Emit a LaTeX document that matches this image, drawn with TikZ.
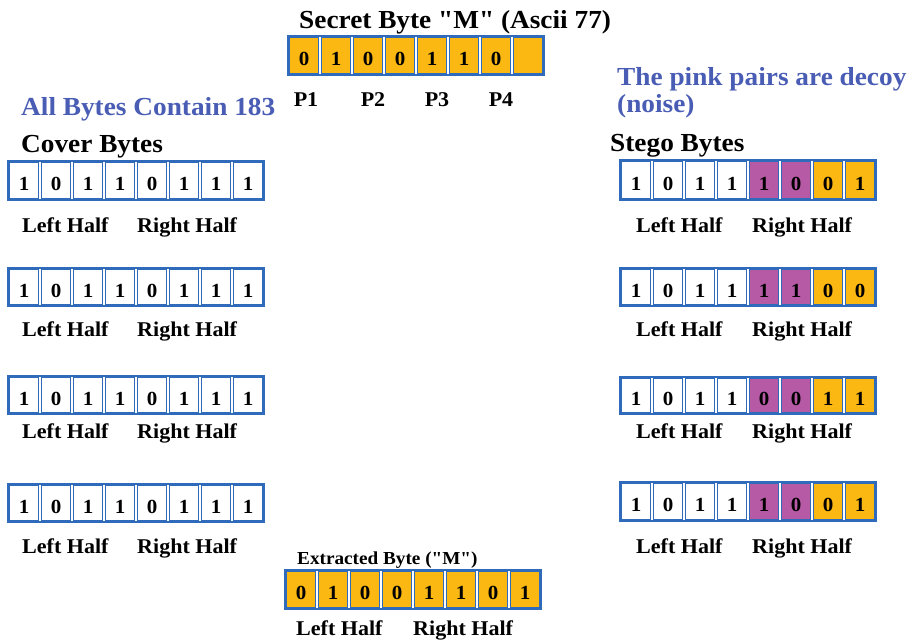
\documentclass[tikz,border=0pt]{standalone}
\usepackage{fontspec}
\setmainfont[FakeStretch=1.05]{Liberation Serif}
\newfontfamily\qfont[FakeStretch=1.05]{Liberation Serif}
\newcommand\dq{{\qfont\char34}}
\definecolor{gold}{HTML}{FBB813}
\definecolor{pinkc}{HTML}{B65AA6}
\definecolor{bluet}{HTML}{4A5DB5}
\definecolor{bord}{HTML}{2F6BBA}
\tikzset{
  cell/.style={draw=bord, line width=1.3pt, minimum width=28.5pt, inner sep=0pt, text height=20pt, text depth=0pt, font=\fontsize{20}{20}\selectfont\bfseries},
  outerbox/.style={draw=bord, line width=2.4pt},
  lbl/.style={font=\fontsize{21}{21}\selectfont\bfseries, inner sep=0pt, anchor=base west},
  ttl/.style={font=\fontsize{26}{26}\selectfont\bfseries, inner sep=0pt, anchor=base west},
  bttl/.style={ttl, text=bluet},
}
\newcommand\byterow[5]{%
  \foreach \bb/\cc [count=\ii] in {#5} {
    \node[cell, fill=\cc, minimum height=#4-3pt] (#1-\ii) at ({#2+32*\ii-16}, {#3+#4/2}) {\bb};
  }
  \draw[outerbox] ({#2},{#3}) rectangle ({#2+256},{#3+#4});
}
\begin{document}
\begin{tikzpicture}[x=1pt,y=-1pt]
\useasboundingbox[fill=white] (0,0) rectangle (909,642);
% secret byte
\node[ttl] (sttl) at (299,29) {Secret Byte \dq M\dq{} (Ascii 77)};
\byterow{s}{288}{36}{39}{0/gold,1/gold,0/gold,0/gold,1/gold,1/gold,0/gold,{}/gold}
\node[lbl, anchor=base] (p1) at (306,106) {P1};
\node[lbl, anchor=base] (p2) at (373,106) {P2};
\node[lbl, anchor=base] (p3) at (437,106) {P3};
\node[lbl, anchor=base] (p4) at (501,106) {P4};
% left
\node[bttl] (allb) at (21,115) {All Bytes Contain 183};
\node[ttl] (cov) at (21,152) {Cover Bytes};
\byterow{ca}{8}{161}{39}{1/white,0/white,1/white,1/white,0/white,1/white,1/white,1/white}
\byterow{cb}{8}{268}{38}{1/white,0/white,1/white,1/white,0/white,1/white,1/white,1/white}
\byterow{cc}{8}{376}{38}{1/white,0/white,1/white,1/white,0/white,1/white,1/white,1/white}
\byterow{cd}{8}{484}{38}{1/white,0/white,1/white,1/white,0/white,1/white,1/white,1/white}
\node[lbl] (cal) at (22,232) {Left Half};
\node[lbl] (car) at (137,232) {Right Half};
\node[lbl] (cbl) at (22,336) {Left Half};
\node[lbl] (cbr) at (137,336) {Right Half};
\node[lbl] (ccl) at (22,438) {Left Half};
\node[lbl] (ccr) at (137,438) {Right Half};
\node[lbl] (cdl) at (22,553) {Left Half};
\node[lbl] (cdr) at (137,553) {Right Half};
% right
\node[bttl] (pink1) at (617,85) {The pink pairs are decoy};
\node[bttl] (pink2) at (617,112) {(noise)};
\node[ttl] (steg) at (610,151) {Stego Bytes};
\byterow{ta}{620}{160}{40}{1/white,0/white,1/white,1/white,1/pinkc,0/pinkc,0/gold,1/gold}
\byterow{tb}{620}{268}{38}{1/white,0/white,1/white,1/white,1/pinkc,1/pinkc,0/gold,0/gold}
\byterow{tc}{620}{377}{37}{1/white,0/white,1/white,1/white,0/pinkc,0/pinkc,1/gold,1/gold}
\byterow{td}{620}{482}{39}{1/white,0/white,1/white,1/white,1/pinkc,0/pinkc,0/gold,1/gold}
\node[lbl] (tal) at (636,232) {Left Half};
\node[lbl] (tar) at (752,232) {Right Half};
\node[lbl] (tbl) at (636,336) {Left Half};
\node[lbl] (tbr) at (752,336) {Right Half};
\node[lbl] (tcl) at (636,438) {Left Half};
\node[lbl] (tcr) at (752,438) {Right Half};
\node[lbl] (tdl) at (636,553) {Left Half};
\node[lbl] (tdr) at (752,553) {Right Half};
% extracted
\node[lbl, font=\fontsize{18.3}{18}\selectfont\bfseries] (ext) at (297,564) {Extracted Byte (\dq M\dq)};
\byterow{e}{285}{570}{39}{0/gold,1/gold,0/gold,0/gold,1/gold,1/gold,0/gold,1/gold}
\node[lbl] (el) at (296,635) {Left Half};
\node[lbl] (er) at (413,635) {Right Half};
\end{tikzpicture}
\end{document}
